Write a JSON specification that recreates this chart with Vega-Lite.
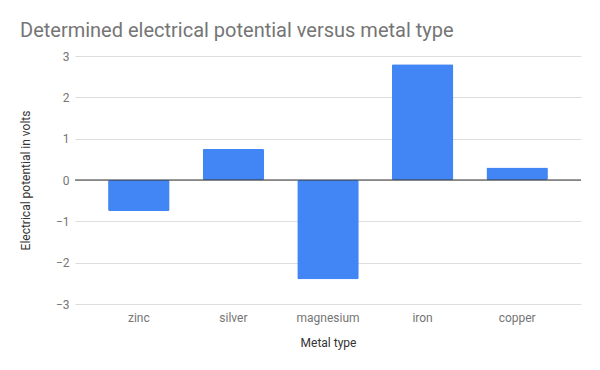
{
  "$schema": "https://vega.github.io/schema/vega-lite/v6.json",
  "autosize": "none",
  "width": 506,
  "height": 248,
  "padding": {"left": 75, "top": 56, "right": 19, "bottom": 66},
  "background": "white",
  "config": {
    "font": "Roboto",
    "view": {"stroke": null}
  },
  "title": {
    "text": "Determined electrical potential versus metal type",
    "anchor": "start",
    "frame": "group",
    "dx": -55,
    "offset": 9,
    "fontSize": 20,
    "fontWeight": "normal",
    "color": "#757575",
    "font": "Roboto"
  },
  "data": {
    "values": [
      {"metal": "zinc", "potential": -0.75},
      {"metal": "silver", "potential": 0.75},
      {"metal": "magnesium", "potential": -2.4},
      {"metal": "iron", "potential": 2.8},
      {"metal": "copper", "potential": 0.3}
    ]
  },
  "layer": [
    {
      "mark": {"type": "bar", "color": "#4285F4", "cornerRadius": 1.5},
      "encoding": {
        "x": {
          "field": "metal",
          "type": "nominal",
          "sort": null,
          "scale": {"paddingInner": 0.35, "paddingOuter": 0.35},
          "axis": {
            "title": "Metal type",
            "labelAngle": 0,
            "labelFontSize": 12,
            "labelColor": "#757575",
            "labelPadding": 8,
            "ticks": false,
            "domain": false,
            "titleFontSize": 12,
            "titleFontWeight": "normal",
            "titleColor": "#333333",
            "titlePadding": 14
          }
        },
        "y": {
          "field": "potential",
          "type": "quantitative",
          "scale": {"domain": [-3, 3], "nice": false},
          "axis": {
            "title": "Electrical potential in volts",
            "values": [-3, -2, -1, 0, 1, 2, 3],
            "labelFontSize": 12,
            "labelColor": "#757575",
            "labelPadding": 6,
            "ticks": false,
            "domain": false,
            "gridColor": "#dddddd",
            "titleFontSize": 12,
            "titleFontWeight": "normal",
            "titleColor": "#333333",
            "titlePadding": 23
          }
        }
      }
    },
    {
      "data": {"values": [{"zero": 0}]},
      "mark": {"type": "rule", "color": "#333333", "strokeWidth": 1},
      "encoding": {"y": {"field": "zero", "type": "quantitative"}}
    }
  ]
}
